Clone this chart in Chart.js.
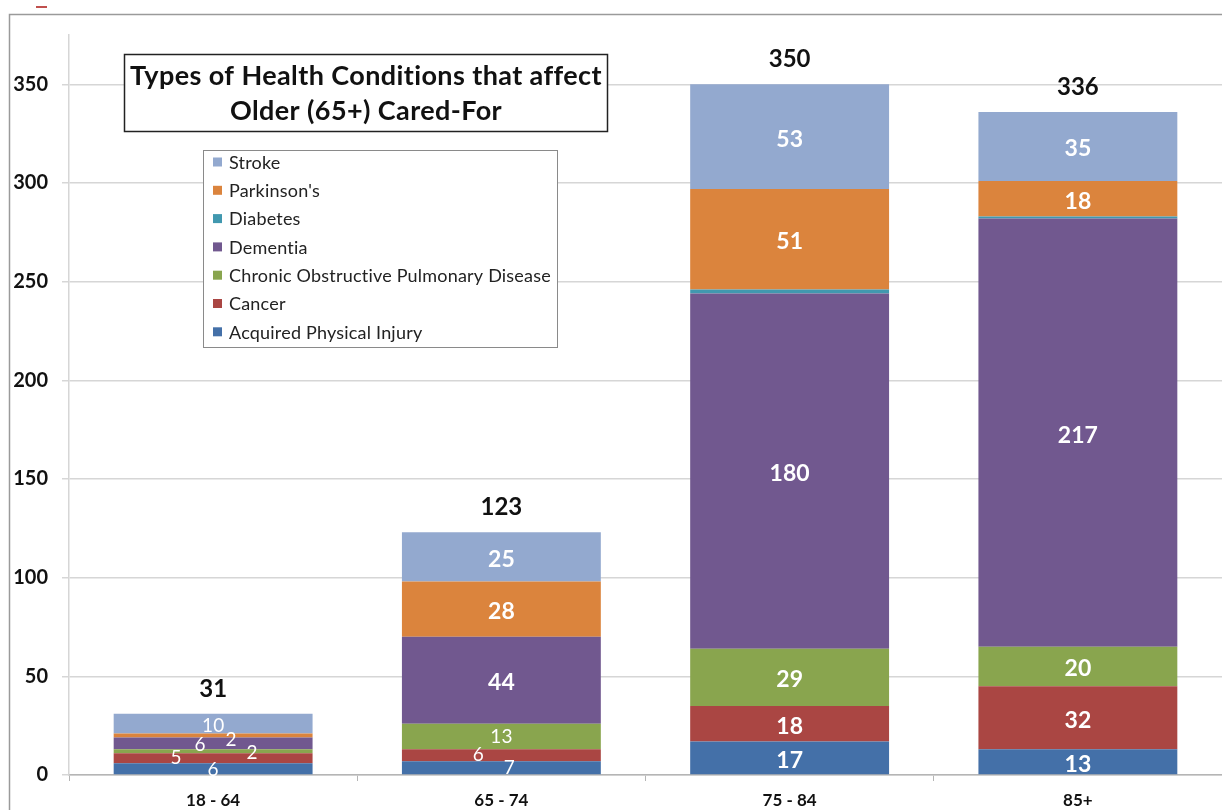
<!DOCTYPE html>
<html>
<head>
<meta charset="utf-8">
<script src="https://cdn.jsdelivr.net/npm/chart.js@4/dist/chart.umd.min.js"></script>
<style>
html,body{margin:0;padding:0;background:#fff;}
#wrap{width:1222px;height:810px;position:relative;}
</style>
</head>
<body>
<div id="wrap"><canvas id="c" width="1222" height="810"></canvas></div>
<script>
const categories = ['18 - 64', '65 - 74', '75 - 84', '85+'];
const seriesNames = ['Acquired Physical Injury', 'Cancer', 'Chronic Obstructive Pulmonary Disease', 'Dementia', 'Diabetes', "Parkinson's", 'Stroke'];
const acquiredInjury = [6, 7, 17, 13];
const cancer = [5, 6, 18, 32];
const copd = [2, 13, 29, 20];
const dementia = [6, 44, 180, 217];
const diabetes = [0, 0, 2, 1];
const parkinsons = [2, 28, 51, 18];
const stroke = [10, 25, 53, 35];
const totals = [31, 123, 350, 336];
const yTicks = [0, 50, 100, 150, 200, 250, 300, 350];
const titleLines = ['Types of Health Conditions that affect', 'Older (65+) Cared-For'];

const seriesValues = [acquiredInjury, cancer, copd, dementia, diabetes, parkinsons, stroke];
const seriesColors = ['#4470A8', '#AA4643', '#89A54E', '#71588F', '#4198AF', '#DB843D', '#93A9CF'];

const FONT = 'Lato, "Open Sans", sans-serif';

// label nudges (dx, dy) for crowded segments: key "category,series"
const nudges = {
  '0,0': [0, 1], '0,1': [-37, 0], '0,2': [39, 2], '0,3': [-13, 1], '0,5': [18, 4], '0,6': [0, 2],
  '1,0': [8, 0], '1,1': [-23, 0]
};
const regularLabels = new Set(['0,0','0,1','0,2','0,3','0,5','0,6','1,0','1,1','1,2']);

const decorPlugin = {
  id: 'decor',
  beforeDraw(chart) {
    const ctx = chart.ctx;
    ctx.save();
    ctx.fillStyle = '#fff';
    ctx.fillRect(0, 0, chart.width, chart.height);
    ctx.strokeStyle = '#9a9a9a';
    ctx.lineWidth = 1.5;
    ctx.strokeRect(9.5, 14.5, 1400, 900);
    ctx.strokeStyle = '#c0504d';
    ctx.lineWidth = 2;
    ctx.beginPath(); ctx.moveTo(36, 7); ctx.lineTo(47, 7); ctx.stroke();
    ctx.restore();
  },
  afterDatasetsDraw(chart) {
    const ctx = chart.ctx;
    ctx.save();
    ctx.textAlign = 'center';
    ctx.textBaseline = 'middle';
    chart.data.datasets.forEach((ds, si) => {
      if (ds.label === 'Diabetes') return;
      const meta = chart.getDatasetMeta(si);
      meta.data.forEach((bar, ci) => {
        const v = ds.data[ci];
        if (!v) return;
        const key = ci + ',' + si;
        const reg = regularLabels.has(key);
        const n = nudges[key] || [0, 0];
        ctx.fillStyle = '#fff';
        ctx.font = (reg ? '19px ' : 'bold 23px ') + FONT;
        ctx.fillText(String(v), bar.x + n[0], (bar.y + bar.base) / 2 + n[1] + (reg ? 0 : 2.5));
      });
    });
    // totals
    const topMeta = chart.getDatasetMeta(chart.data.datasets.length - 1);
    const yScale = chart.scales.y;
    ctx.fillStyle = '#111';
    ctx.font = 'bold 24px ' + FONT;
    topMeta.data.forEach((bar, ci) => {
      ctx.fillText(String(totals[ci]), bar.x, yScale.getPixelForValue(totals[ci]) - 25);
    });

    // title box
    ctx.fillStyle = '#fff';
    ctx.fillRect(124, 54, 484, 78);
    ctx.strokeStyle = '#222';
    ctx.lineWidth = 1.5;
    ctx.strokeRect(124.5, 54.5, 483, 77);
    ctx.fillStyle = '#111';
    ctx.font = 'bold 27px ' + FONT;
    try { ctx.letterSpacing = '0.4px'; } catch (e) {}
    ctx.fillText(titleLines[0], 366, 76);
    ctx.fillText(titleLines[1], 366, 111);
    try { ctx.letterSpacing = '0px'; } catch (e) {}

    // legend box
    ctx.fillStyle = '#fff';
    ctx.fillRect(203, 150, 355, 198);
    ctx.strokeStyle = '#8a8a8a';
    ctx.lineWidth = 1;
    ctx.strokeRect(203.5, 150.5, 354, 197);
    ctx.textAlign = 'left';
    ctx.font = '18px ' + FONT;
    try { ctx.letterSpacing = '0.2px'; } catch (e) {}
    const order = [6, 5, 4, 3, 2, 1, 0];
    order.forEach((si, r) => {
      const y = 162 + r * 28.3;
      ctx.fillStyle = seriesColors[si];
      ctx.fillRect(213, y - 4.5, 9, 9);
      ctx.fillStyle = '#222';
      ctx.fillText(seriesNames[si], 229, y + 1);
    });
    try { ctx.letterSpacing = '0px'; } catch (e) {}
    ctx.restore();
  }
};

new Chart(document.getElementById('c'), {
  type: 'bar',
  data: {
    labels: categories,
    datasets: seriesValues.map((vals, i) => ({
      label: seriesNames[i],
      data: vals,
      backgroundColor: seriesColors[i],
      borderWidth: 0,
      categoryPercentage: 1,
      barPercentage: 0.69
    }))
  },
  options: {
    responsive: false,
    animation: false,
    layout: { padding: { top: 35, right: 0, left: 0, bottom: 0 } },
    plugins: { legend: { display: false }, tooltip: { enabled: false }, title: { display: false } },
    scales: {
      x: {
        stacked: true,
        grid: { offset: true, drawOnChartArea: false, drawTicks: true, tickLength: 6, color: '#b5b5b5' },
        border: { display: true, color: '#b5b5b5', width: 1.5 },
        ticks: { font: { family: FONT, size: 17, weight: 'bold' }, color: '#111', padding: 9 },
        afterFit(s) { s.height = 35; }
      },
      y: {
        stacked: true,
        min: 0,
        max: 375,
        afterBuildTicks(s) { s.ticks = yTicks.map(v => ({ value: v })); },
        grid: { color: '#d6d6d6', lineWidth: 1.5, tickLength: 7 },
        border: { display: true, color: '#d6d6d6', width: 1.5 },
        ticks: { font: { family: FONT, size: 20, weight: 'bold' }, color: '#111', padding: 14 },
        afterFit(s) { s.width = 69; }
      }
    }
  },
  plugins: [decorPlugin]
});
</script>
</body>
</html>
